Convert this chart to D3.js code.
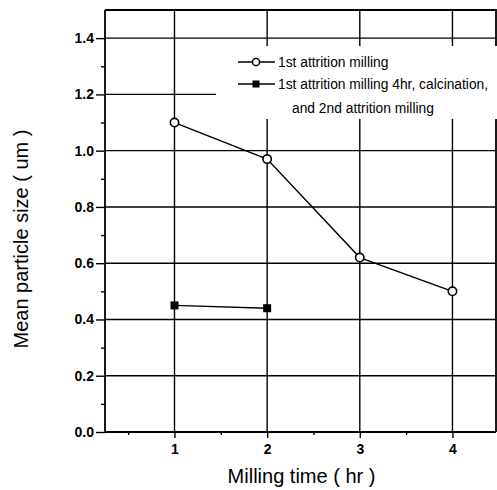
<!DOCTYPE html>
<html>
<head>
<meta charset="utf-8">
<script src="https://cdn.jsdelivr.net/npm/d3@7"></script>
<style>
  body { margin: 0; background: #fff; }
  svg { display: block; font-family: "Liberation Sans", Arial, sans-serif; }
</style>
</head>
<body>
<div id="chart"></div>
<script>
// data
const millingTime = [1, 2, 3, 4];
const firstMilling = [1.10, 0.97, 0.62, 0.50];
const secondTime = [1, 2];
const secondMilling = [0.45, 0.44];
const xTicks = [1, 2, 3, 4];
const xMinor = [0.5, 1.5, 2.5, 3.5];
const yTicks = [0.0, 0.2, 0.4, 0.6, 0.8, 1.0, 1.2, 1.4];
const yMinor = [0.1, 0.3, 0.5, 0.7, 0.9, 1.1, 1.3];
const legendLabels = ["1st attrition milling", "1st attrition milling 4hr, calcination,", "and 2nd attrition milling"];

const width = 497, height = 490;
const margin = {top: 10, right: 1, bottom: 58, left: 105};

const svg = d3.select("#chart").append("svg")
    .attr("width", width)
    .attr("height", height);

const x = d3.scaleLinear().domain([0.25, 4.47]).range([margin.left, width - margin.right]);
const y = d3.scaleLinear().domain([0, 1.5]).range([height - margin.bottom, margin.top]);

// grid
const grid = svg.append("g").attr("stroke", "#000").attr("stroke-width", 1.4);
grid.selectAll("line.h").data(yTicks.filter(d => d > 0)).join("line")
    .attr("class", "h")
    .attr("x1", x.range()[0]).attr("x2", x.range()[1])
    .attr("y1", d => y(d)).attr("y2", d => y(d));
grid.selectAll("line.v").data(xTicks).join("line")
    .attr("class", "v")
    .attr("x1", d => x(d)).attr("x2", d => x(d))
    .attr("y1", y.range()[0]).attr("y2", y.range()[1]);

// frame (top + right)
svg.append("path")
    .attr("d", `M${x.range()[0]},${y.range()[1]}H${x.range()[1]}V${y.range()[0]}`)
    .attr("fill", "none").attr("stroke", "#000").attr("stroke-width", 1.8);

// legend box hides the grid behind it
svg.append("rect")
    .attr("x", 216).attr("y", 46)
    .attr("width", width - 216).attr("height", 73)
    .attr("fill", "#fff");

// series lines
const line = d3.line().x(d => x(d[0])).y(d => y(d[1]));
const s1 = millingTime.map((t, i) => [t, firstMilling[i]]);
const s2 = secondTime.map((t, i) => [t, secondMilling[i]]);

svg.append("path").datum(s1).attr("d", line)
    .attr("fill", "none").attr("stroke", "#000").attr("stroke-width", 1.4);
svg.append("path").datum(s2).attr("d", line)
    .attr("fill", "none").attr("stroke", "#000").attr("stroke-width", 1.4);

svg.selectAll("circle.s1").data(s1).join("circle")
    .attr("class", "s1")
    .attr("cx", d => x(d[0])).attr("cy", d => y(d[1])).attr("r", 4.2)
    .attr("fill", "#fff").attr("stroke", "#000").attr("stroke-width", 1.6);
svg.selectAll("rect.s2").data(s2).join("rect")
    .attr("class", "s2")
    .attr("x", d => x(d[0]) - 4).attr("y", d => y(d[1]) - 4)
    .attr("width", 8).attr("height", 8)
    .attr("fill", "#000");

// axes
const xAxis = svg.append("g")
    .attr("transform", `translate(0,${y.range()[0]})`)
    .call(d3.axisBottom(x).tickValues(xTicks).tickSize(6).tickPadding(6).tickFormat(d3.format("d")));
svg.append("g")
    .attr("transform", `translate(0,${y.range()[0]})`)
    .call(d3.axisBottom(x).tickValues(xMinor).tickSize(3).tickFormat(""))
    .select(".domain").remove();

const yAxis = svg.append("g")
    .attr("transform", `translate(${x.range()[0]},0)`)
    .call(d3.axisLeft(y).tickValues(yTicks).tickSize(9).tickPadding(2).tickFormat(d3.format(".1f")));
svg.append("g")
    .attr("transform", `translate(${x.range()[0]},0)`)
    .call(d3.axisLeft(y).tickValues(yMinor).tickSize(4).tickFormat(""))
    .select(".domain").remove();

svg.selectAll(".tick line").attr("stroke-width", 1.4);
svg.selectAll(".domain").attr("stroke-width", 1.8);
svg.selectAll(".tick text").attr("fill", "#000")
    .style("font-size", "14px").style("font-weight", "bold")
    .style("font-family", "Liberation Sans, Arial, sans-serif");
yAxis.selectAll(".domain").attr("d", `M0,${y.range()[0]}V${y.range()[1]}`);
xAxis.selectAll(".domain").attr("d", `M${x.range()[0]},0H${x.range()[1]}`);

// legend
const legend = svg.append("g");
const legendRows = [62, 84];
legendRows.forEach((ly, i) => {
    legend.append("line")
        .attr("x1", 238).attr("x2", 275).attr("y1", ly).attr("y2", ly)
        .attr("stroke", "#000").attr("stroke-width", 1.4);
    if (i === 0) {
        legend.append("circle").attr("cx", 256).attr("cy", ly).attr("r", 3.6)
            .attr("fill", "#fff").attr("stroke", "#000").attr("stroke-width", 1.5);
    } else {
        legend.append("rect").attr("x", 252.5).attr("y", ly - 3.5)
            .attr("width", 7).attr("height", 7).attr("fill", "#000");
    }
});
legend.selectAll("text").data(legendLabels).join("text")
    .attr("x", (d, i) => i === 2 ? 292 : 278)
    .attr("y", (d, i) => [62, 84, 108][i])
    .attr("dy", "0.35em")
    .attr("font-size", 13.8)
    .text(d => d);

// axis titles
svg.append("text")
    .attr("x", (x.range()[0] + x.range()[1]) / 2 + 1)
    .attr("y", 483)
    .attr("text-anchor", "middle")
    .attr("font-size", 20)
    .text("Milling time ( hr )");

svg.append("text")
    .attr("transform", `translate(28,239) rotate(-90)`)
    .attr("text-anchor", "middle")
    .attr("font-size", 20)
    .text("Mean particle size ( um )");
</script>
</body>
</html>
